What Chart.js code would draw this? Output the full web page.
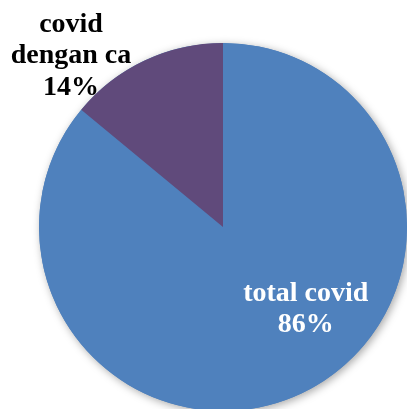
<!DOCTYPE html>
<html>
<head>
<meta charset="utf-8">
<script src="https://cdn.jsdelivr.net/npm/chart.js@4"></script>
<style>
html,body{margin:0;padding:0;background:#fff;overflow:hidden;}
#wrap{width:407px;height:409px;position:relative;}
</style>
</head>
<body>
<div id="wrap"><canvas id="c" width="407" height="409"></canvas></div>
<script>
const categories = ["total covid", "covid dengan ca"];
const values = [86, 14];
const percentLabels = ["86%", "14%"];
const colors = ["#4F81BD", "#604A7B"];

const FONT = 'bold 28px "Liberation Serif", "DejaVu Serif", serif';

const shadowPlugin = {
  id: 'pieShadow',
  beforeDatasetsDraw(chart) {
    const arc = chart.getDatasetMeta(0).data[0];
    if (!arc) return;
    const ctx = chart.ctx;
    ctx.save();
    ctx.shadowColor = 'rgba(0,0,0,0.35)';
    ctx.shadowBlur = 8;
    ctx.shadowOffsetX = 2;
    ctx.shadowOffsetY = 2;
    ctx.fillStyle = '#4F81BD';
    ctx.beginPath();
    ctx.arc(arc.x, arc.y, arc.outerRadius, 0, Math.PI * 2);
    ctx.fill();
    ctx.restore();
  }
};

const labelPlugin = {
  id: 'pieLabels',
  afterDatasetsDraw(chart) {
    const meta = chart.getDatasetMeta(0);
    const ctx = chart.ctx;
    const lh = 31.7;
    // label placement relative to pie centre, as fraction of radius
    const placements = [
      {fx: 0.450, fy: 0.400, color: '#FFFFFF'},
      {fx: -0.826, fy: -1.062, color: '#000000'}
    ];
    ctx.save();
    ctx.font = FONT;
    ctx.textAlign = 'center';
    ctx.textBaseline = 'alphabetic';
    meta.data.forEach((arc, i) => {
      const r = arc.outerRadius;
      const p = placements[i];
      const x = arc.x + p.fx * r;
      const y = arc.y + p.fy * r;
      ctx.fillStyle = p.color;
      let lines;
      if (i === 0) lines = [categories[i], percentLabels[i]];
      else lines = ["covid", "dengan ca", percentLabels[i]];
      lines.forEach((t, k) => ctx.fillText(t, x, y + k * lh));
    });
    ctx.restore();
  }
};

new Chart(document.getElementById('c'), {
  type: 'pie',
  data: {
    labels: categories,
    datasets: [{
      data: values,
      backgroundColor: colors,
      borderWidth: 0,
      radius: 184
    }]
  },
  options: {
    responsive: false,
    animation: false,
    layout: {padding: {left: 39, right: 0, top: 45, bottom: 0}},
    plugins: {
      legend: {display: false},
      tooltip: {enabled: false},
      title: {display: false}
    }
  },
  plugins: [shadowPlugin, labelPlugin]
});
</script>
</body>
</html>
